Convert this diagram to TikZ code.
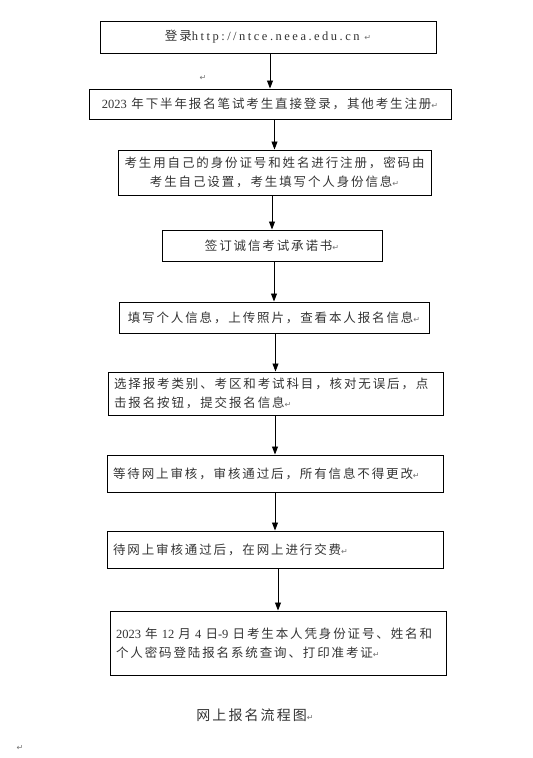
\documentclass[tikz,border=0pt]{standalone}
\usepackage{fontspec}
\setmainfont{Liberation Serif}
\newfontfamily\cjk[LetterSpace=15]{Noto Sans CJK SC}
\newfontfamily\latsp[LetterSpace=20]{Liberation Serif}
\newfontfamily\arrowfnt{DejaVu Sans}
\newcommand{\parmark}{{\arrowfnt\fontsize{8}{8}\selectfont\color{black!55}↵}}
\usetikzlibrary{positioning,arrows.meta}

\begin{document}
\begin{tikzpicture}[x=1pt, y=-1pt, >={Triangle[length=8pt,width=6pt]},
  stepbox/.style={draw, line width=1pt, inner xsep=6pt, inner ysep=2pt, align=center, text=black!80, font=\cjk\fontsize{12.5}{19}\selectfont},
  leftbox/.style={stepbox, align=left}]
\useasboundingbox (0,0) rectangle (533,758);
\node[stepbox, minimum width=336pt, minimum height=32pt] (login) at (268,37) {登录{\latsp http://ntce.neea.edu.cn}\ \parmark};
\node[stepbox, below=35pt of login, xshift=2pt, minimum width=362pt, minimum height=30pt] (direct) {{\rmfamily 2023} 年下半年报名笔试考生直接登录，其他考生注册\parmark};
\node[stepbox, below=30pt of direct, xshift=4.5pt, minimum width=313pt, minimum height=45pt] (register) {考生用自己的身份证号和姓名进行注册，密码由\\考生自己设置，考生填写个人身份信息\parmark};
\node[stepbox, below=34pt of register, xshift=-2.5pt, minimum width=220pt, minimum height=31pt] (pledge) {签订诚信考试承诺书\parmark};
\node[stepbox, below=40pt of pledge, xshift=2pt, minimum width=310pt, minimum height=31pt] (photo) {填写个人信息，上传照片，查看本人报名信息\parmark};
\node[leftbox, below=38pt of photo, xshift=1.5pt, text width=323pt, minimum height=43pt] (choose) {选择报考类别、考区和考试科目，核对无误后，点\\击报名按钮，提交报名信息\parmark};
\node[leftbox, below=39pt of choose, xshift=-0.5pt, text width=324pt, minimum height=37pt] (review) {等待网上审核，审核通过后，所有信息不得更改\parmark};
\node[leftbox, below=38pt of review, text width=324pt, minimum height=37pt] (pay) {待网上审核通过后，在网上进行交费\parmark};
\node[leftbox, below=42pt of pay, xshift=3pt, text width=324pt, minimum height=64pt] (admit) {{\rmfamily 2023} 年 {\rmfamily 12} 月 {\rmfamily 4} 日{\rmfamily -9} 日考生本人凭身份证号、姓名和\\个人密码登陆报名系统查询、打印准考证\parmark};
\node[below=30pt of admit, xshift=-23pt, text=black!80, font=\cjk\fontsize{14}{16}\selectfont] (title) {网上报名流程图\parmark};
\node (mark1) at (203,78) {\parmark};
\node (mark2) at (20,748) {\parmark};
\foreach \a/\b in {login/direct, direct/register, register/pledge, pledge/photo, photo/choose, choose/review, review/pay, pay/admit}
  \draw[->, line width=0.9pt] (\b.north |- \a.south) -- (\b.north);
\end{tikzpicture}
\end{document}
